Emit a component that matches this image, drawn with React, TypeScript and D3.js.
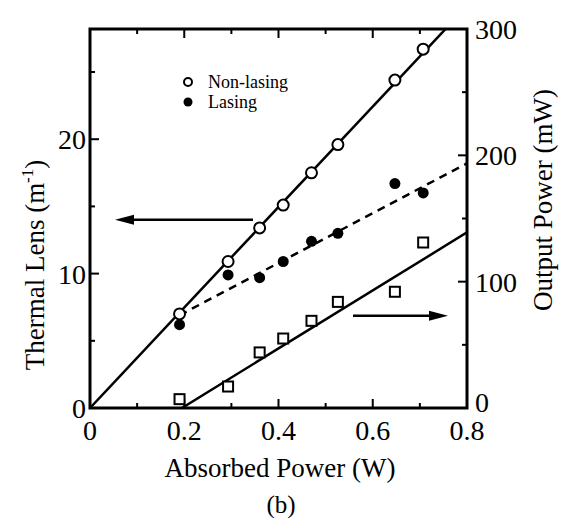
import React from 'react';
import * as d3 from 'd3';

// absorbed power (W) for each measurement
const powerX = [0.19, 0.293, 0.36, 0.41, 0.47, 0.526, 0.647, 0.707];
// thermal lens, non-lasing (1/m)
const nonLasing = [7.0, 10.9, 13.4, 15.1, 17.5, 19.6, 24.4, 26.7];
// thermal lens, lasing (1/m)
const lasing = [6.2, 9.9, 9.7, 10.9, 12.4, 13.0, 16.7, 16.0];
// output power (mW)
const outputPower = [7, 17, 44, 55, 69, 84, 92, 131];

// fitted lines
const nonLasingFit: [number, number][] = [[0, 0], [0.8, 29.9]];
const lasingFit: [number, number][] = [[0.19, 6.9], [0.8, 18.2]];
const outputFit: [number, number][] = [[0.195, 0], [0.8, 139]];

const xTicks = [0, 0.2, 0.4, 0.6, 0.8];
const xMinor = [0.1, 0.3, 0.5, 0.7];
const leftTicks = [0, 10, 20];
const leftMinor = [5, 15, 25];
const rightTicks = [0, 100, 200, 300];
const rightMinor = [50, 150, 250];

const FONT = '"Liberation Serif", "Times New Roman", serif';

const App = () => {
  const left = 90, right = 467, top = 29, bottom = 408;
  const x = d3.scaleLinear().domain([0, 0.8]).range([left, right]);
  const yL = d3.scaleLinear().domain([0, 28.2]).range([bottom, top]);
  const yR = d3.scaleLinear().domain([0, 300]).range([bottom, top]);

  const lineL = d3.line<[number, number]>().x(d => x(d[0])).y(d => yL(d[1]));
  const lineR = d3.line<[number, number]>().x(d => x(d[0])).y(d => yR(d[1]));

  const sw = 2.5;

  return (
    <svg width={561} height={518} style={{ position: 'absolute', left: 0, top: 0, background: '#fff' }}
      fontFamily={FONT}>
      <defs>
        <clipPath id="plot">
          <rect x={left} y={top} width={right - left} height={bottom - top} />
        </clipPath>
      </defs>

      {/* frame */}
      <rect x={left} y={top} width={right - left} height={bottom - top} fill="none" stroke="#000" strokeWidth={3} />

      {/* x ticks, bottom and top, inward */}
      {xTicks.concat(xMinor).map(t => {
        const major = xTicks.includes(t);
        const len = major ? 9 : 5;
        return (
          <g key={'x' + t}>
            <line x1={x(t)} x2={x(t)} y1={bottom} y2={bottom - len} stroke="#000" strokeWidth={2} />
            <line x1={x(t)} x2={x(t)} y1={top} y2={top + len} stroke="#000" strokeWidth={2} />
          </g>
        );
      })}
      {xTicks.map(t => (
        <text key={'xl' + t} x={x(t)} y={440} fontSize={28} textAnchor="middle">{t === 0 ? '0' : t.toFixed(1)}</text>
      ))}

      {/* left ticks */}
      {leftTicks.concat(leftMinor).map(t => (
        <line key={'l' + t} x1={left} x2={left + (leftTicks.includes(t) ? 9 : 5)} y1={yL(t)} y2={yL(t)} stroke="#000" strokeWidth={2} />
      ))}
      {leftTicks.map(t => (
        <text key={'ll' + t} x={left - 4} y={yL(t) + 10} fontSize={28} textAnchor="end">{t}</text>
      ))}

      {/* right ticks */}
      {rightTicks.concat(rightMinor).map(t => (
        <line key={'r' + t} x1={right} x2={right - (rightTicks.includes(t) ? 9 : 5)} y1={yR(t)} y2={yR(t)} stroke="#000" strokeWidth={2} />
      ))}
      {rightTicks.map(t => (
        <text key={'rl' + t} x={right + 8} y={yR(t) + (t === 0 ? 4 : 10)} fontSize={28} textAnchor="start">{t}</text>
      ))}

      {/* axis titles */}
      <text x={280} y={477} fontSize={27} textAnchor="middle">Absorbed Power (W)</text>
      <text x={281} y={513} fontSize={25} textAnchor="middle">(b)</text>
      <text transform="translate(44,265) rotate(-90)" fontSize={27} textAnchor="middle">
        Thermal Lens (m<tspan fontSize={17} dy={-11}>-1</tspan><tspan dy={11}>)</tspan>
      </text>
      <text transform="translate(552,200) rotate(-90)" fontSize={27} textAnchor="middle">Output Power (mW)</text>

      {/* fits */}
      <g clipPath="url(#plot)" fill="none" stroke="#000" strokeWidth={sw}>
        <path d={lineL(nonLasingFit) || ''} />
        <path d={lineL(lasingFit) || ''} strokeDasharray="8,6" />
        <path d={lineR(outputFit) || ''} />
      </g>

      {/* markers */}
      {powerX.map((p, i) => (
        <circle key={'ln' + i} cx={x(p)} cy={yL(lasing[i])} r={5.5} fill="#000" />
      ))}
      {powerX.map((p, i) => (
        <circle key={'nl' + i} cx={x(p)} cy={yL(nonLasing[i])} r={5.5} fill="#fff" stroke="#000" strokeWidth={2} />
      ))}
      {powerX.map((p, i) => (
        <rect key={'op' + i} x={x(p) - 5} y={yR(outputPower[i]) - 5} width={10} height={10} fill="#fff" stroke="#000" strokeWidth={2} />
      ))}

      {/* arrows */}
      <line x1={253} x2={125} y1={yL(14)} y2={yL(14)} stroke="#000" strokeWidth={2.5} />
      <path d={`M115,${yL(14)} L134,${yL(14) - 5} L134,${yL(14) + 5} Z`} fill="#000" />
      <line x1={353} x2={438} y1={yR(73)} y2={yR(73)} stroke="#000" strokeWidth={2.5} />
      <path d={`M448,${yR(73)} L429,${yR(73) - 5} L429,${yR(73) + 5} Z`} fill="#000" />

      {/* legend */}
      <circle cx={188} cy={82} r={4} fill="#fff" stroke="#000" strokeWidth={2} />
      <text x={208} y={88} fontSize={18}>Non-lasing</text>
      <circle cx={188} cy={102} r={4.5} fill="#000" />
      <text x={208} y={108} fontSize={18}>Lasing</text>
    </svg>
  );
};

export default App;
